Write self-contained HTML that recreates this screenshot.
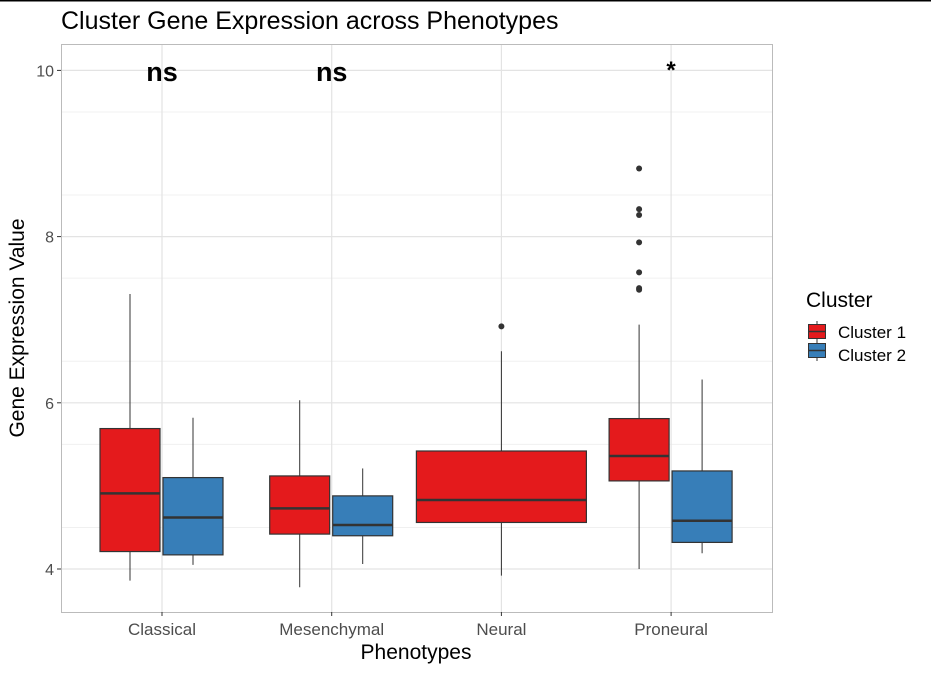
<!DOCTYPE html>
<html><head><meta charset="utf-8"><style>
body{margin:0;background:#fff;}
svg{display:block;font-family:"Liberation Sans",Arial,sans-serif;}
</style></head><body>
<svg id="chart" width="931" height="673" xmlns="http://www.w3.org/2000/svg">
<line x1="0" y1="0.75" x2="931" y2="0.75" stroke="#000" stroke-width="1.5"/>
<text x="61" y="29" font-size="25" fill="#000">Cluster Gene Expression across Phenotypes</text>
<g id="grid"></g>
<g id="marks"></g>
<rect x="61.5" y="44.5" width="711" height="568" fill="none" stroke="#bbb" stroke-width="1"/>
<g id="axes"></g>
<text x="416" y="659" font-size="21" text-anchor="middle">Phenotypes</text>
<text transform="translate(24,328) rotate(-90)" font-size="21" text-anchor="middle">Gene Expression Value</text>
<g>
<text x="806" y="307" font-size="21">Cluster</text>
<g>
<line x1="817" y1="321" x2="817" y2="342" stroke="#333"/>
<rect x="808.5" y="324.5" width="17" height="14" fill="#E41A1C" stroke="#333"/>
<line x1="808" y1="331.5" x2="826" y2="331.5" stroke="#333" stroke-width="1.5"/>
<text x="838" y="338" font-size="17">Cluster 1</text></g>
<g>
<line x1="817" y1="340" x2="817" y2="361" stroke="#333"/>
<rect x="808.5" y="343.5" width="17" height="14" fill="#377EB8" stroke="#333"/>
<line x1="808" y1="350.5" x2="826" y2="350.5" stroke="#333" stroke-width="1.5"/>
<text x="838" y="361" font-size="17">Cluster 2</text></g>
</g>
</svg>
<script>
const categories=["Classical","Mesenchymal","Neural","Proneural"];
const yTicks=[4,6,8,10];
const signif=["ns","ns","","*"];
// [lower whisker, q1, median, q3, upper whisker]
const cluster1=[[3.86,4.21,4.91,5.69,7.31],[3.78,4.42,4.73,5.12,6.03],[3.92,4.56,4.83,5.42,6.62],[4.0,5.06,5.36,5.81,6.94]];
const cluster2=[[4.05,4.17,4.62,5.10,5.82],[4.06,4.40,4.53,4.88,5.21],null,[4.19,4.32,4.58,5.18,6.28]];
const outliers1=[[],[],[6.92],[8.82,8.33,8.26,7.93,7.57,7.38,7.36]];
const outliers2=[[],[],[],[]];
const NS="http://www.w3.org/2000/svg";
const y=v=>569-(v-4)*83.1;
const x=i=>162+i*169.7;
function mk(t,a,p){const e=document.createElementNS(NS,t);for(const k in a)e.setAttribute(k,a[k]);p.appendChild(e);return e;}
const grid=document.getElementById('grid'),marks=document.getElementById('marks'),axes=document.getElementById('axes');
for(let v=3.5;v<=10.25;v+=1){if(v<3.6)continue;const g=mk('line',{x1:62,x2:772,y1:y(v),y2:y(v),stroke:'#f0f0f0','stroke-width':1},grid);}
yTicks.forEach(v=>{const g=mk('line',{x1:62,x2:772,y1:y(v),y2:y(v),stroke:'#e3e3e3','stroke-width':1.2},grid);
const t=mk('text',{x:54,y:y(v)+6,'font-size':16,fill:'#4d4d4d','text-anchor':'end'},axes);t.textContent=v;
mk('line',{x1:57,x2:61,y1:y(v),y2:y(v),stroke:'#333'},axes);});
categories.forEach((c,i)=>{const g=mk('line',{x1:x(i),x2:x(i),y1:45,y2:612,stroke:'#e3e3e3','stroke-width':1.2},grid);
mk('line',{x1:x(i),x2:x(i),y1:612,y2:616,stroke:'#333'},axes);
const t=mk('text',{x:x(i),y:635,'font-size':17,fill:'#4d4d4d','text-anchor':'middle'},axes);t.textContent=c;
if(signif[i]){const s=mk('text',{x:x(i),y:signif[i]=='*'?78:81,'font-size':signif[i]=='*'?24:27,'font-weight':'bold','text-anchor':'middle',fill:'#000'},marks);s.textContent=signif[i];}});
function box(cx,w,d,out,col,name){const g=mk('g',{},marks);
mk('line',{x1:cx,x2:cx,y1:y(d[0]),y2:y(d[4]),stroke:'#333','stroke-width':1},g);
mk('rect',{x:cx-w/2,y:y(d[3]),width:w,height:y(d[1])-y(d[3]),fill:col,stroke:'#333','stroke-width':1.2},g);
mk('line',{x1:cx-w/2,x2:cx+w/2,y1:y(d[2]),y2:y(d[2]),stroke:'#333','stroke-width':2.5},g);
out.forEach(o=>{const p=mk('circle',{cx:cx,cy:y(o),r:3,fill:'#333'},g);});}
categories.forEach((c,i)=>{
if(cluster2[i]){box(x(i)-32,60,cluster1[i],outliers1[i],'#E41A1C','box-'+c.toLowerCase()+'-cluster-1');box(x(i)+31,60,cluster2[i],outliers2[i],'#377EB8','box-'+c.toLowerCase()+'-cluster-2');}
else box(x(i),170,cluster1[i],outliers1[i],'#E41A1C','box-'+c.toLowerCase()+'-cluster-1');});
</script>
</body></html>
